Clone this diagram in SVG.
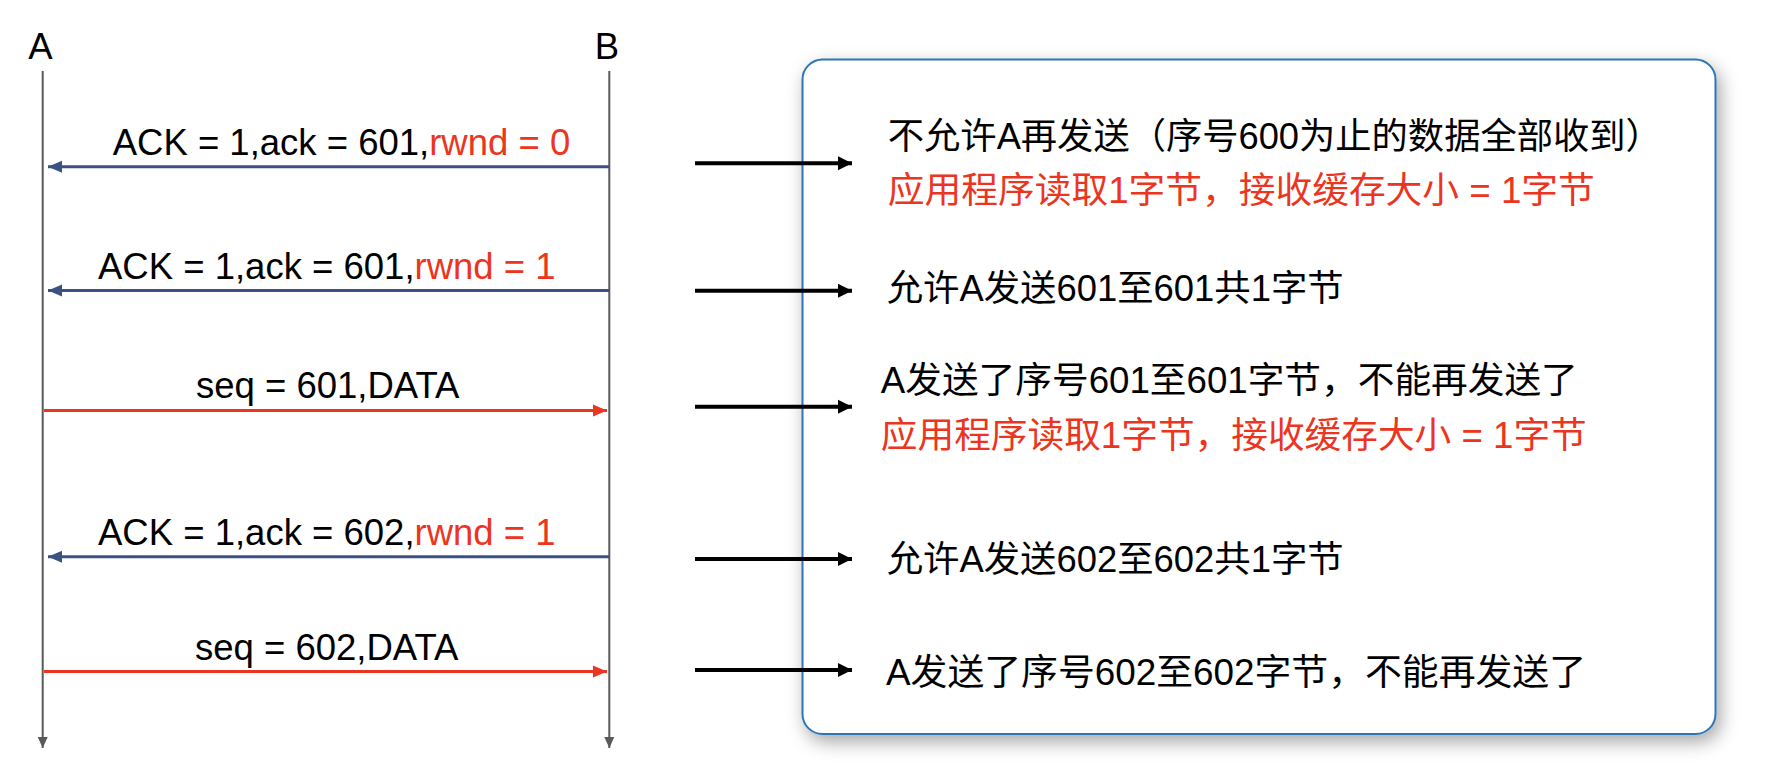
<svg xmlns="http://www.w3.org/2000/svg" width="1766" height="780" viewBox="0 0 1766 780">
<style>
.lbl{font-family:"Liberation Sans",Arial,sans-serif;font-size:36.5px;fill:#000}
.cn{font-family:"Liberation Sans","Noto Sans CJK SC",sans-serif;font-size:36px;fill:#000}
.lbl .red,.cn.red{fill:#ec3520}
.life{stroke:#595959;stroke-width:2;fill:none}
.msgN{stroke:#3a5282;stroke-width:3;fill:none}
.msgR{stroke:#ec3520;stroke-width:3;fill:none}
.pt{stroke:#000;stroke-width:4;fill:none}
</style>
<defs>
<marker id="hLife" markerUnits="userSpaceOnUse" markerWidth="12" markerHeight="12" refX="11" refY="6" orient="auto"><path d="M0,1 L11,6 L0,11 z" fill="#595959"/></marker>
<marker id="hNavy" markerUnits="userSpaceOnUse" markerWidth="15" markerHeight="14" refX="14" refY="7" orient="auto"><path d="M0,1 L14,7 L0,13 z" fill="#3a5282"/></marker>
<marker id="hRed" markerUnits="userSpaceOnUse" markerWidth="15" markerHeight="14" refX="14" refY="7" orient="auto"><path d="M0,1 L14,7 L0,13 z" fill="#ec3520"/></marker>
<marker id="hBlk" markerUnits="userSpaceOnUse" markerWidth="15" markerHeight="16" refX="14" refY="8" orient="auto"><path d="M0,1 L14,8 L0,15 z" fill="#000"/></marker>
<filter id="shadow" x="-10%" y="-10%" width="125%" height="125%">
<feDropShadow dx="4" dy="7" stdDeviation="9" flood-color="#000" flood-opacity="0.35"/>
</filter>
</defs>
<rect width="1766" height="780" fill="#fff"/>

<g id="lifeline-A">
<text class="lbl" x="40.5" y="59" text-anchor="middle">A</text>
<line class="life" x1="42.7" y1="71" x2="42.7" y2="748" marker-end="url(#hLife)"/>
</g>
<g id="lifeline-B">
<text class="lbl" x="607" y="59" text-anchor="middle">B</text>
<line class="life" x1="609.3" y1="71" x2="609.3" y2="748" marker-end="url(#hLife)"/>
</g>

<g id="note-box">
<rect x="802.5" y="59.5" width="913" height="674.5" rx="20" ry="20" fill="#fff" stroke="#2e75b6" stroke-width="2" filter="url(#shadow)"/>
<text class="cn" x="887.8" y="149" textLength="774" lengthAdjust="spacingAndGlyphs">不允许A再发送（序号600为止的数据全部收到）</text>
<text class="cn red" x="887.8" y="203" textLength="707" lengthAdjust="spacingAndGlyphs">应用程序读取1字节，接收缓存大小 = 1字节</text>
<text class="cn" x="886.7" y="301" textLength="457" lengthAdjust="spacingAndGlyphs">允许A发送601至601共1字节</text>
<text class="cn" x="880.8" y="393" textLength="697" lengthAdjust="spacingAndGlyphs">A发送了序号601至601字节，不能再发送了</text>
<text class="cn red" x="880.8" y="448" textLength="706" lengthAdjust="spacingAndGlyphs">应用程序读取1字节，接收缓存大小 = 1字节</text>
<text class="cn" x="886.7" y="572" textLength="457" lengthAdjust="spacingAndGlyphs">允许A发送602至602共1字节</text>
<text class="cn" x="886" y="685" textLength="700" lengthAdjust="spacingAndGlyphs">A发送了序号602至602字节，不能再发送了</text>
</g>

<g id="connectors">
<g id="msg1">
<text class="lbl" x="112.7" y="155">ACK = 1,ack = 601,<tspan class="red">rwnd = 0</tspan></text>
<line class="msgN" x1="609.3" y1="166.7" x2="48" y2="166.7" marker-end="url(#hNavy)"/>
</g>
<g id="msg2">
<text class="lbl" x="98" y="279">ACK = 1,ack = 601,<tspan class="red">rwnd = 1</tspan></text>
<line class="msgN" x1="609.3" y1="290.5" x2="48" y2="290.5" marker-end="url(#hNavy)"/>
</g>
<g id="msg3">
<text class="lbl" x="196" y="398">seq = 601,DATA</text>
<line class="msgR" x1="44" y1="410.5" x2="607" y2="410.5" marker-end="url(#hRed)"/>
</g>
<g id="msg4">
<text class="lbl" x="98" y="545">ACK = 1,ack = 602,<tspan class="red">rwnd = 1</tspan></text>
<line class="msgN" x1="609.3" y1="556.7" x2="48" y2="556.7" marker-end="url(#hNavy)"/>
</g>
<g id="msg5">
<text class="lbl" x="195" y="660">seq = 602,DATA</text>
<line class="msgR" x1="44" y1="671.5" x2="607" y2="671.5" marker-end="url(#hRed)"/>
</g>
<line class="pt" x1="695" y1="163.3" x2="852" y2="163.3" marker-end="url(#hBlk)"/>
<line class="pt" x1="695" y1="290.7" x2="852" y2="290.7" marker-end="url(#hBlk)"/>
<line class="pt" x1="695" y1="406.7" x2="852" y2="406.7" marker-end="url(#hBlk)"/>
<line class="pt" x1="695" y1="559" x2="852" y2="559" marker-end="url(#hBlk)"/>
<line class="pt" x1="695" y1="670" x2="852" y2="670" marker-end="url(#hBlk)"/>
</g>
</svg>
